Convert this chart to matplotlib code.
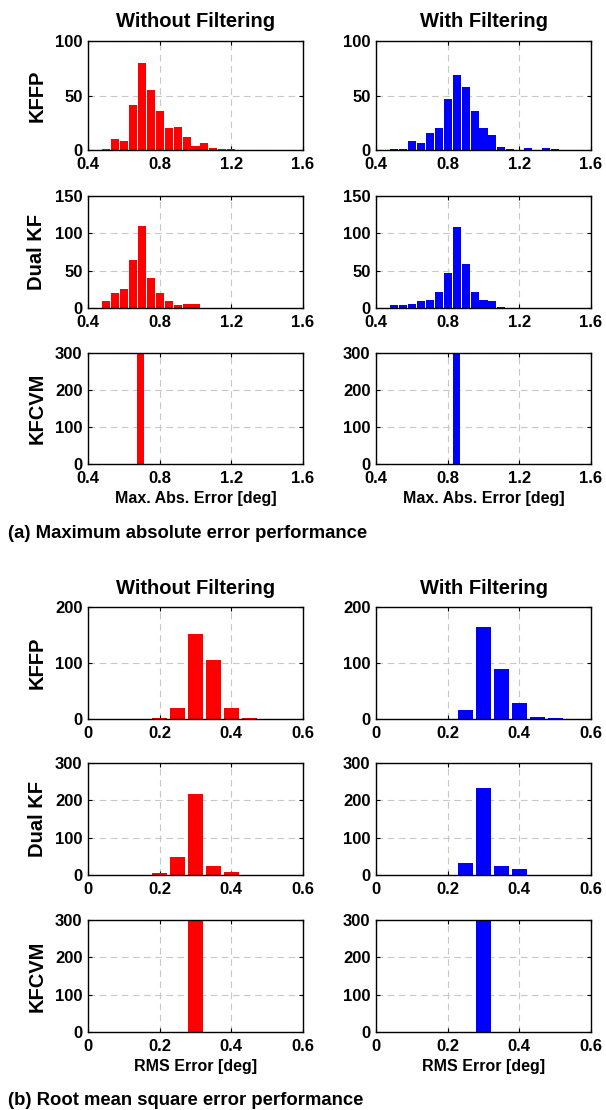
import matplotlib
matplotlib.use('Agg')
import matplotlib.pyplot as plt

# ---------------- data ----------------
rows = ["KFFP", "Dual KF", "KFCVM"]
cols = ["Without Filtering", "With Filtering"]

# (a) Max. abs. error histograms (bin centres, counts)
mae_x_kffp_raw = [0.50, 0.55, 0.60, 0.65, 0.70, 0.75, 0.80, 0.85, 0.90, 0.95, 1.00, 1.05, 1.10, 1.15, 1.20]
mae_y_kffp_raw = [1, 10, 8, 41, 80, 55, 36, 20, 21, 12, 4, 6, 2, 1, 0.5]
mae_x_kffp_filt = [0.50, 0.55, 0.60, 0.65, 0.70, 0.75, 0.80, 0.85, 0.90, 0.95, 1.00, 1.05, 1.10, 1.15, 1.25, 1.35, 1.40]
mae_y_kffp_filt = [1, 1, 8, 6, 16, 20, 47, 69, 58, 36, 20, 14, 3, 1, 1.5, 1.5, 1]
mae_x_dual_raw = [0.50, 0.55, 0.60, 0.65, 0.70, 0.75, 0.80, 0.85, 0.90, 0.95, 1.00]
mae_y_dual_raw = [9, 20, 25, 64, 110, 40, 20, 10, 4, 5, 5]
mae_x_dual_filt = [0.50, 0.55, 0.60, 0.65, 0.70, 0.75, 0.80, 0.85, 0.90, 0.95, 1.00, 1.05, 1.10]
mae_y_dual_filt = [4, 4, 5, 9, 11, 21, 47, 108, 59, 22, 11, 9, 2]
mae_x_kfcvm_raw = [0.695]
mae_y_kfcvm_raw = [300]
mae_x_kfcvm_filt = [0.847]
mae_y_kfcvm_filt = [300]

# (b) RMS error histograms
rms_x_kffp_raw = [0.20, 0.25, 0.30, 0.35, 0.40, 0.45]
rms_y_kffp_raw = [2, 20, 152, 106, 20, 2]
rms_x_kffp_filt = [0.25, 0.30, 0.35, 0.40, 0.45, 0.50]
rms_y_kffp_filt = [16, 164, 89, 29, 4, 2]
rms_x_dual_raw = [0.20, 0.25, 0.30, 0.35, 0.40]
rms_y_dual_raw = [5, 48, 216, 24, 9]
rms_x_dual_filt = [0.25, 0.30, 0.35, 0.40]
rms_y_dual_filt = [32, 234, 24, 16]
rms_x_kfcvm_raw = [0.30]
rms_y_kfcvm_raw = [300]
rms_x_kfcvm_filt = [0.30]
rms_y_kfcvm_filt = [300]

mae_xticks = [0.4, 0.8, 1.2, 1.6]
mae_xticklabels = ["0.4", "0.8", "1.2", "1.6"]
rms_xticks = [0, 0.2, 0.4, 0.6]
rms_xticklabels = ["0", "0.2", "0.4", "0.6"]
mae_yticks = [[0, 50, 100], [0, 50, 100, 150], [0, 100, 200, 300]]
rms_yticks = [[0, 100, 200], [0, 100, 200, 300], [0, 100, 200, 300]]

# ---------------- style ----------------
plt.rcParams['font.family'] = ['Liberation Sans', 'DejaVu Sans']
plt.rcParams['font.weight'] = 'bold'

W, H = 606, 1110
fig = plt.figure(figsize=(W / 100, H / 100), dpi=100)

col_x = [88, 376]
col_w = 215
rows_a = [(41, 150), (196, 308), (353, 464)]
rows_b = [(607, 719), (763, 875), (920, 1032)]

colors = ['#ff0000', '#0000ff']


def make_ax(x0, top, bottom):
    return fig.add_axes([x0 / W, 1 - bottom / H, col_w / W, (bottom - top) / H])


def style(ax, xlim, xticks, xtl, yticks):
    ax.set_xlim(*xlim)
    ax.set_ylim(yticks[0], yticks[-1])
    ax.set_xticks(xticks)
    ax.set_xticklabels(xtl)
    ax.set_yticks(yticks)
    ax.set_yticklabels([str(v) for v in yticks])
    ax.tick_params(direction='in', length=3, width=0.8, top=True, right=True,
                   labelsize=12)
    ax.tick_params(axis='x', pad=5)
    ax.tick_params(axis='y', pad=4)
    for lab in ax.get_xticklabels() + ax.get_yticklabels():
        lab.set_fontweight('bold')
    ax.grid(True, color='#c8c8c8', linestyle=(0, (6, 4)), linewidth=0.8)
    ax.set_axisbelow(True)
    for s in ax.spines.values():
        s.set_linewidth(1.0)
        s.set_color('black')


mae_data = [
    [(mae_x_kffp_raw, mae_y_kffp_raw), (mae_x_kffp_filt, mae_y_kffp_filt)],
    [(mae_x_dual_raw, mae_y_dual_raw), (mae_x_dual_filt, mae_y_dual_filt)],
    [(mae_x_kfcvm_raw, mae_y_kfcvm_raw), (mae_x_kfcvm_filt, mae_y_kfcvm_filt)],
]
rms_data = [
    [(rms_x_kffp_raw, rms_y_kffp_raw), (rms_x_kffp_filt, rms_y_kffp_filt)],
    [(rms_x_dual_raw, rms_y_dual_raw), (rms_x_dual_filt, rms_y_dual_filt)],
    [(rms_x_kfcvm_raw, rms_y_kfcvm_raw), (rms_x_kfcvm_filt, rms_y_kfcvm_filt)],
]

# section (a)
for r in range(3):
    for c in range(2):
        ax = make_ax(col_x[c], *rows_a[r])
        xs, ys = mae_data[r][c]
        if r < 2:
            ax.bar(xs, ys, width=0.045, color=colors[c], edgecolor='none', zorder=2)
        else:
            ax.bar(xs, ys, width=0.04, color=colors[c], edgecolor='none', zorder=2)
        style(ax, (0.4, 1.6), mae_xticks, mae_xticklabels, mae_yticks[r])
        if c == 0:
            ax.set_ylabel(rows[r], fontsize=14.5, fontweight='bold', labelpad=6)
        if r == 2:
            ax.set_xlabel("Max. Abs. Error [deg]", fontsize=11.5, fontweight='bold', labelpad=4)

# section (b)
for r in range(3):
    for c in range(2):
        ax = make_ax(col_x[c], *rows_b[r])
        xs, ys = rms_data[r][c]
        ax.bar(xs, ys, width=0.042, color=colors[c], edgecolor='none', zorder=2)
        style(ax, (0, 0.6), rms_xticks, rms_xticklabels, rms_yticks[r])
        if c == 0:
            ax.set_ylabel(rows[r], fontsize=14.5, fontweight='bold', labelpad=6)
        if r == 2:
            ax.set_xlabel("RMS Error [deg]", fontsize=11.5, fontweight='bold', labelpad=4)

# column titles
for base in (27, 594):
    for c in range(2):
        fig.text((col_x[c] + col_w / 2) / W, 1 - base / H, cols[c], ha='center', va='baseline',
                 fontsize=14.5, fontweight='bold')

fig.text(8 / W, 1 - 538 / H, "(a) Maximum absolute error performance", ha='left', va='baseline',
         fontsize=13.3, fontweight='bold')
fig.text(8 / W, 1 - 1105 / H, "(b) Root mean square error performance", ha='left', va='baseline',
         fontsize=13.3, fontweight='bold')

fig.savefig('out.png', dpi=100)
